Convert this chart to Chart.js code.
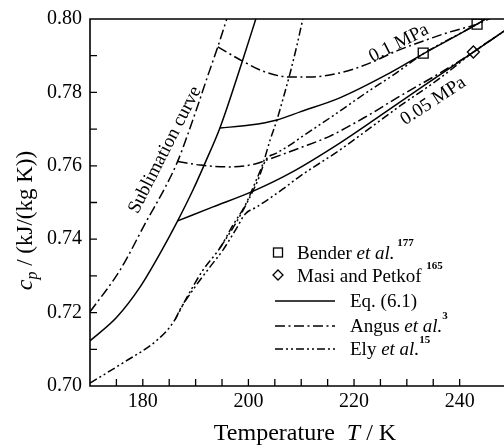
<!DOCTYPE html>
<html>
<head>
<meta charset="utf-8">
<script src="https://cdn.jsdelivr.net/npm/chart.js@4.4.1/dist/chart.umd.min.js"></script>
<style>
  html, body { margin: 0; padding: 0; background: #fff; }
  #wrap { width: 504px; height: 446px; }
</style>
</head>
<body>
<div id="wrap"><canvas id="chart" width="504" height="446"></canvas></div>
<script>
// axis ranges and labelled ticks
const xMin = 170, xMax = 248.4;
const yMin = 0.70, yMax = 0.80;
const xTickLabels = [180, 200, 220, 240];
const yTickLabels = [0.70, 0.72, 0.74, 0.76, 0.78, 0.80];

// Eq. (6.1): sublimation curve and two isobars
const eqSublT  = [170, 175.1, 179.5, 183.3, 186.6, 189.5, 191.8, 194.6, 198.8, 201.4];
const eqSublCp = [0.7123, 0.7188, 0.7270, 0.7362, 0.7450, 0.7534, 0.7608, 0.7703, 0.7883, 0.8000];
const eq005T   = [186.6, 193.3, 200.9, 207.9, 217.3, 224.9, 233.1, 242.6, 248.4];
const eq005Cp  = [0.7450, 0.7488, 0.7531, 0.7580, 0.7662, 0.7736, 0.7817, 0.7910, 0.7967];
const eq01T    = [194.6, 200.3, 205.4, 209.8, 217.3, 226.8, 233.1, 243.3, 246.0];
const eq01Cp   = [0.7703, 0.7711, 0.7725, 0.7747, 0.7785, 0.7853, 0.7905, 0.7986, 0.8010];

// Angus et al.
const angusSublT  = [170, 175.7, 180.8, 184.2, 186.6, 188.6, 190.5, 192.3, 194.2, 195.9];
const angusSublCp = [0.7202, 0.7316, 0.7452, 0.7540, 0.7612, 0.7689, 0.7768, 0.7845, 0.7924, 0.8000];
const angus005T   = [186.6, 190.8, 196.5, 201.25, 204.1, 209.8, 215.45, 222.5, 228.7, 236.3, 242.6, 248.4];
const angus005Cp  = [0.7612, 0.7602, 0.7597, 0.7605, 0.7619, 0.7649, 0.7681, 0.7736, 0.7790, 0.7853, 0.7910, 0.7967];
const angus01T    = [194.2, 198.8, 203.1, 207.9, 211.7, 217.3, 222.5, 228.1, 233.1, 238.2, 243.3, 246.0];
const angus01Cp   = [0.7924, 0.7886, 0.7856, 0.7842, 0.7842, 0.7853, 0.7877, 0.7913, 0.7940, 0.7965, 0.7986, 0.8003];

// Ely et al.
const elySublT  = [170, 176.25, 182.7, 185.7, 188.4, 191.4, 194.6, 197.1, 199.4, 201.25, 202.8, 204.1, 205.4, 206.7, 207.9, 209.2, 210.3];
const elySublCp = [0.7008, 0.7063, 0.7125, 0.7172, 0.7243, 0.7316, 0.7376, 0.7439, 0.7493, 0.7553, 0.7608, 0.7670, 0.7725, 0.7790, 0.7853, 0.7929, 0.8000];
const ely005T   = [186.1, 187.0, 189.5, 192.7, 195.2, 197.8, 199.4, 201.6, 206.55, 209.8, 217.3, 228.7, 236.3, 242.6, 248.4];
const ely005Cp  = [0.7180, 0.7207, 0.7262, 0.7324, 0.7371, 0.7431, 0.7469, 0.7488, 0.7537, 0.7572, 0.7643, 0.7763, 0.7839, 0.7910, 0.7967];
const ely01T    = [194.6, 197.5, 199.9, 201.8, 203.3, 205.4, 207.9, 209.8, 216.0, 222.5, 227.4, 233.1, 243.3, 246.0];
const ely01Cp   = [0.7376, 0.7441, 0.7504, 0.7561, 0.7616, 0.7635, 0.7657, 0.7676, 0.7736, 0.7801, 0.7847, 0.7905, 0.7986, 0.8010];

// measured points
const benderT  = [233.1, 243.3];
const benderCp = [0.7907, 0.7986];
const masiT    = [242.6];
const masiCp   = [0.7910];

const SERIF = '"Liberation Serif", "DejaVu Serif", serif';
const DASH_DOT = [10, 3.5, 2, 3.5];
const DASH_DOT_DOT = [8, 3, 2, 3, 2, 3];

function pts(xs, ys) {
    return xs.map((x, i) => ({ x: x, y: ys[i] }));
}

function curve(xs, ys, dash) {
    return {
        type: 'line',
        data: pts(xs, ys),
        borderColor: '#000',
        borderWidth: 1.5,
        borderDash: dash,
        pointRadius: 0,
        fill: false,
        cubicInterpolationMode: 'monotone'
    };
}

// draws a sequence of text runs with different fonts
function drawRuns(ctx, runs, x, y, align) {
    let total = 0;
    runs.forEach(r => { ctx.font = r.font; total += ctx.measureText(r.text).width; });
    let cx = align === 'center' ? x - total / 2 : x;
    ctx.textAlign = 'left';
    ctx.textBaseline = 'alphabetic';
    runs.forEach(r => {
        ctx.font = r.font;
        ctx.fillText(r.text, cx, y + (r.dy || 0));
        cx += ctx.measureText(r.text).width;
    });
}

// curve annotations placed in data coordinates
const notes = [
    { text: 'Sublimation curve', x: 184.2, y: 0.7643, angle: -63, size: 19 },
    { text: '0.1 MPa', x: 228.5, y: 0.7934, angle: -27, size: 19 },
    { text: '0.05 MPa', x: 235.0, y: 0.7776, angle: -33, size: 19 }
];

const decorations = {
    id: 'decorations',
    afterDatasetsDraw(chart) {
        const { ctx, chartArea: a, scales: { x, y } } = chart;
        ctx.save();
        ctx.fillStyle = '#000';
        ctx.strokeStyle = '#000';

        // frame (left, bottom, top)
        ctx.lineWidth = 1.6;
        ctx.setLineDash([]);
        ctx.beginPath();
        ctx.moveTo(a.right + 2, a.top);
        ctx.lineTo(a.left, a.top);
        ctx.lineTo(a.left, a.bottom);
        ctx.lineTo(a.right + 2, a.bottom);
        ctx.stroke();

        // inward ticks
        ctx.lineWidth = 1.3;
        ctx.beginPath();
        x.ticks.forEach(t => {
            const v = t.value;
            if (Math.abs(v / 5 - Math.round(v / 5)) < 1e-6 && v > xMin) {
                const px = x.getPixelForValue(v);
                ctx.moveTo(px, a.bottom);
                ctx.lineTo(px, a.bottom - 7);
            }
        });
        y.ticks.forEach(t => {
            const v = t.value;
            if (v > yMin + 1e-6 && v < yMax - 1e-6) {
                const py = y.getPixelForValue(v);
                ctx.moveTo(a.left, py);
                ctx.lineTo(a.left + 7, py);
            }
        });
        ctx.stroke();

        // curve notes
        notes.forEach(n => {
            ctx.save();
            ctx.translate(x.getPixelForValue(n.x), y.getPixelForValue(n.y));
            ctx.rotate(n.angle * Math.PI / 180);
            ctx.font = n.size + 'px ' + SERIF;
            ctx.textAlign = 'center';
            ctx.textBaseline = 'middle';
            ctx.fillText(n.text, 0, 0);
            ctx.restore();
        });

        // axis titles
        const f = sz => sz + 'px ' + SERIF;
        const fi = sz => 'italic ' + sz + 'px ' + SERIF;
        drawRuns(ctx, [
            { text: 'Temperature  ', font: f(24) },
            { text: 'T', font: fi(24) },
            { text: ' / K', font: f(24) }
        ], 305, 440, 'center');

        ctx.save();
        ctx.translate(32, (a.top + a.bottom) / 2 + 18);
        ctx.rotate(-Math.PI / 2);
        drawRuns(ctx, [
            { text: 'c', font: fi(24) },
            { text: 'p', font: fi(16), dy: 5 },
            { text: ' / (kJ/(kg K))', font: f(23) }
        ], 0, 0, 'center');
        ctx.restore();

        // legend
        const lx = 278, sx0 = 275, sx1 = 335, tx1 = 297, tx2 = 350;
        const rows = [259, 282, 307, 332, 355];
        ctx.lineWidth = 1.3;
        ctx.setLineDash([]);
        ctx.strokeRect(lx - 4.5, rows[0] - 11, 9, 9);
        ctx.beginPath();
        ctx.moveTo(lx, rows[1] - 12); ctx.lineTo(lx + 5, rows[1] - 7);
        ctx.lineTo(lx, rows[1] - 2); ctx.lineTo(lx - 5, rows[1] - 7);
        ctx.closePath();
        ctx.stroke();
        [[], DASH_DOT, DASH_DOT_DOT].forEach((d, i) => {
            ctx.setLineDash(d);
            ctx.beginPath();
            ctx.moveTo(sx0, rows[i + 2] - 6);
            ctx.lineTo(sx1, rows[i + 2] - 6);
            ctx.stroke();
        });
        ctx.setLineDash([]);
        const sup = 'bold 11px ' + SERIF;
        drawRuns(ctx, [
            { text: 'Bender ', font: f(19) },
            { text: 'et al.', font: fi(19) },
            { text: ' 177', font: sup, dy: -13 }
        ], tx1, rows[0], 'left');
        drawRuns(ctx, [
            { text: 'Masi and Petkof ', font: f(19) },
            { text: '165', font: sup, dy: -13 }
        ], tx1, rows[1], 'left');
        drawRuns(ctx, [{ text: 'Eq. (6.1)', font: f(19) }], tx2, rows[2], 'left');
        drawRuns(ctx, [
            { text: 'Angus ', font: f(19) },
            { text: 'et al.', font: fi(19) },
            { text: '3', font: sup, dy: -13 }
        ], tx2, rows[3], 'left');
        drawRuns(ctx, [
            { text: 'Ely ', font: f(19) },
            { text: 'et al.', font: fi(19) },
            { text: '15', font: sup, dy: -12 }
        ], tx2, rows[4], 'left');

        ctx.restore();
    }
};

document.addEventListener('DOMContentLoaded', function() {
    const ctx = document.getElementById('chart');
    new Chart(ctx, {
        type: 'line',
        data: {
            datasets: [
                curve(eqSublT, eqSublCp, []),
                curve(eq005T, eq005Cp, []),
                curve(eq01T, eq01Cp, []),
                curve(angusSublT, angusSublCp, DASH_DOT),
                curve(angus005T, angus005Cp, DASH_DOT),
                curve(angus01T, angus01Cp, DASH_DOT),
                curve(elySublT, elySublCp, DASH_DOT_DOT),
                curve(ely005T, ely005Cp, DASH_DOT_DOT),
                curve(ely01T, ely01Cp, DASH_DOT_DOT),
                {
                    type: 'scatter',
                    data: pts(benderT, benderCp),
                    pointStyle: 'rect',
                    pointRadius: 7,
                    borderColor: '#000',
                    borderWidth: 1.3,
                    backgroundColor: '#fff'
                },
                {
                    type: 'scatter',
                    data: pts(masiT, masiCp),
                    pointStyle: 'rectRot',
                    pointRadius: 6,
                    borderColor: '#000',
                    borderWidth: 1.3,
                    backgroundColor: '#fff'
                }
            ]
        },
        options: {
            responsive: false,
            animation: false,
            // the plot runs off the right edge of the picture, so no auto padding
            layout: { autoPadding: false, padding: { top: 19, right: 0, bottom: 0, left: 0 } },
            plugins: { legend: { display: false }, tooltip: { enabled: false } },
            scales: {
                x: {
                    type: 'linear',
                    min: xMin,
                    max: xMax,
                    afterFit: s => { s.height = 60; s.paddingLeft = 0; s.paddingRight = 0; },
                    grid: { display: false, drawTicks: false },
                    border: { display: false },
                    ticks: {
                        stepSize: 5,
                        padding: 4,
                        autoSkip: false,
                        maxRotation: 0,
                        color: '#000',
                        font: { family: SERIF, size: 20 },
                        callback: v => xTickLabels.includes(Math.round(v)) && Math.abs(v - Math.round(v)) < 1e-6 ? String(Math.round(v)) : ''
                    }
                },
                y: {
                    type: 'linear',
                    min: yMin,
                    max: yMax,
                    afterFit: s => { s.width = 90; s.paddingTop = 0; s.paddingBottom = 0; },
                    grid: { display: false, drawTicks: false },
                    border: { display: false },
                    ticks: {
                        stepSize: 0.01,
                        padding: 8,
                        autoSkip: false,
                        color: '#000',
                        font: { family: SERIF, size: 20 },
                        callback: v => {
                            const hit = yTickLabels.find(l => Math.abs(l - v) < 1e-6);
                            return hit !== undefined ? hit.toFixed(2) : '';
                        }
                    }
                }
            }
        },
        plugins: [decorations]
    });
});
</script>
</body>
</html>
